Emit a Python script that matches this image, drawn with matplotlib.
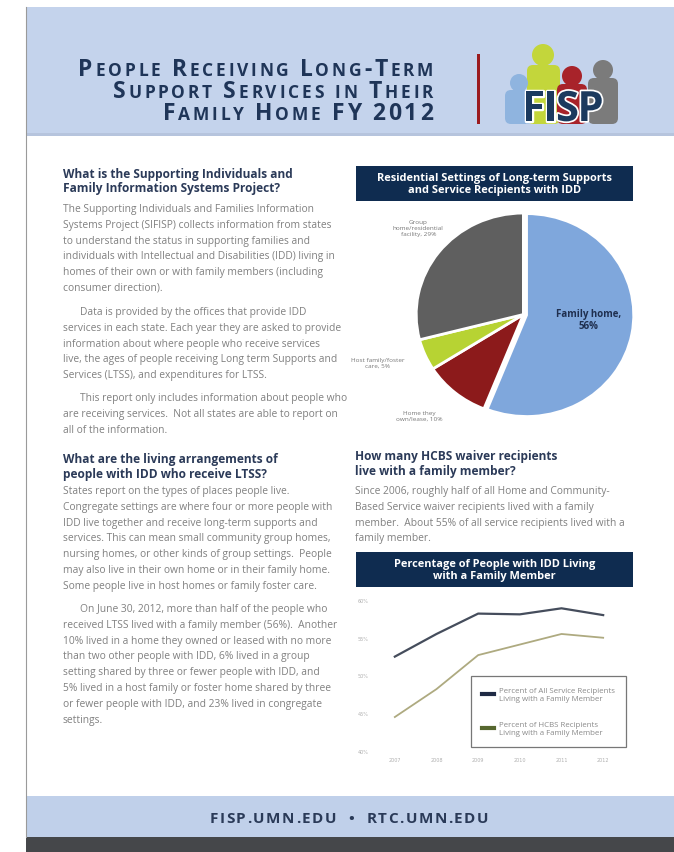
import matplotlib
matplotlib.use('Agg')
import matplotlib.pyplot as plt
from matplotlib import font_manager
from matplotlib.font_manager import FontProperties
from matplotlib.ft2font import FT2Font
from matplotlib.patches import Rectangle, Circle, FancyBboxPatch
from matplotlib.lines import Line2D
import matplotlib.patheffects as pe

# ---- data ----
title_lines = ['People Receiving Long-Term', 'Support Services in Their', 'Family Home FY 2012']

pie_labels = ['Family home,\n56%', 'Home they\nown/lease, 10%', 'Host family/foster\ncare, 5%',
              'Group\nhome/residential\nfacility, 29%']
pie_values = [56, 10, 5, 29]
pie_colors = ['#7fa7dc', '#8c1a1b', '#b7d333', '#5f5f5f']

years = ['2007', '2008', '2009', '2010', '2011', '2012']
all_recipients = [52.5, 55.5, 58.2, 58.1, 58.9, 58.0]
hcbs_recipients = [44.5, 48.2, 52.7, 54.1, 55.5, 55.0]
y_ticks = [40, 45, 50, 55, 60]
series_names = ['Percent of All Service Recipients\nLiving with a Family Member',
                'Percent of HCBS Recipients\nLiving with a Family Member']

head1 = ['What is the Supporting Individuals and', 'Family Information Systems Project?']
para1 = ['The Supporting Individuals and Families Information',
         'Systems Project (SIFISP) collects information from states',
         'to understand the status in supporting families and',
         'individuals with Intellectual and Disabilities (IDD) living in',
         'homes of their own or with family members (including',
         'consumer direction).']
para2 = ['Data is provided by the offices that provide IDD',
         'services in each state. Each year they are asked to provide',
         'information about where people who receive services',
         'live, the ages of people receiving Long term Supports and',
         'Services (LTSS), and expenditures for LTSS.']
para3 = ['This report only includes information about people who',
         'are receiving services.  Not all states are able to report on',
         'all of the information.']
head2 = ['What are the living arrangements of', 'people with IDD who receive LTSS?']
para4 = ['States report on the types of places people live.',
         'Congregate settings are where four or more people with',
         'IDD live together and receive long-term supports and',
         'services. This can mean small community group homes,',
         'nursing homes, or other kinds of group settings.  People',
         'may also live in their own home or in their family home.',
         'Some people live in host homes or family foster care.']
para5 = ['On June 30, 2012, more than half of the people who',
         'received LTSS lived with a family member (56%).  Another',
         '10% lived in a home they owned or leased with no more',
         'than two other people with IDD, 6% lived in a group',
         'setting shared by three or fewer people with IDD, and',
         '5% lived in a host family or foster home shared by three',
         'or fewer people with IDD, and 23% lived in congregate',
         'settings.']
head3 = ['How many HCBS waiver recipients', 'live with a family member?']
para6 = ['Since 2006, roughly half of all Home and Community-',
         'Based Service waiver recipients lived with a family',
         'member.  About 55% of all service recipients lived with a',
         'family member.']
pie_title = 'Residential Settings of Long-term Supports\nand Service Recipients with IDD'
line_title = 'Percentage of People with IDD Living\nwith a Family Member'
footer = 'FISP.UMN.EDU  \u2022  RTC.UMN.EDU'

NAVY = '#0f2c50'
HEAD = '#2b3a58'
BODY = '#808080'
FONT = 'Open Sans'

W, H = 674, 853
fig = plt.figure(figsize=(W / 100, H / 100), dpi=100)
fig.patch.set_facecolor('white')


def fx(x):
    return x / W


def fy(y):
    return 1 - y / H


# background axes in pixel units
bg = fig.add_axes([0, 0, 1, 1])
bg.set_xlim(0, W)
bg.set_ylim(H, 0)
bg.axis('off')

bg.add_patch(Rectangle((26, 8), W - 26, 128, color='#c4d3ec', lw=0))
bg.add_patch(Rectangle((26, 134), W - 26, 3, color='#b6c4dd', lw=0))
bg.add_patch(Rectangle((26, 797), W - 26, 41, color='#c0d0ea', lw=0))
bg.add_patch(Rectangle((26, 838), W - 26, 15, color='#45474a', lw=0))
bg.plot([26, 26], [8, 838], color='#9a9a9a', lw=0.8)

# red divider
bg.add_patch(Rectangle((477, 55), 3, 70, color='#9b1b1f', lw=0))

# logo people
people = [  # head x, head y, r, body x0, x1, top, colour
    (543, 56, 11, 527, 560, 66, '#c3d63b'),
    (603, 71, 10, 588, 618, 79, '#7b7b7b'),
    (572, 77, 10, 557, 587, 85, '#a8232a'),
    (519, 84, 9, 505, 533, 91, '#8fb4df'),
]
for hx, hy, r, x0, x1, top, c in people:
    bg.add_patch(Circle((hx, hy), r, color=c, lw=0))
    bg.add_patch(FancyBboxPatch((x0, top), x1 - x0, 125 - top,
                                boxstyle='round,pad=0,rounding_size=6', color=c, lw=0))

bold_path = font_manager.findfont(FontProperties(family=FONT, weight='bold'))


def tracked(text, x, y, big, small, track, color, ha='right', caps=True):
    # draws text letter by letter with extra spacing; lowercase -> small capitals
    font = FT2Font(bold_path)
    items = []
    for ch in text:
        size = small if (caps and ch.islower()) else big
        c = ch.upper() if caps else ch
        font.set_size(size, 100)
        a = font.load_char(ord(c)).linearHoriAdvance / 65536
        items.append((c, size, a))
    total = sum(a for _, _, a in items) + track * (len(items) - 1)
    x0 = x - total if ha == 'right' else x - total / 2
    for c, size, a in items:
        if c != ' ':
            fig.text(fx(x0), fy(y), c, fontsize=size, fontweight='bold', family=FONT,
                     color=color, ha='left', va='baseline')
        x0 += a + track


for i, ln in enumerate(title_lines):
    tracked(ln, 433, 76 + 22 * i, 16.5, 12.5, 2.7, '#1f3558')

tracked('FISP', 563, 122, 30, 30, -1.5, '#1b3a5e', ha='center')
for t in fig.texts[-4:]:
    t.set_path_effects([pe.withStroke(linewidth=2.5, foreground='white')])

tracked(footer, 349, 823, 11, 11, 1.5, '#2a3a58', ha='center', caps=False)


def block(lines, x, y0, dy=15.8, indent=0, **kw):
    for i, ln in enumerate(lines):
        fig.text(fx(x + (indent if i == 0 else 0)), fy(y0 + i * dy), ln, va='baseline',
                 family=FONT, **kw)


hkw = dict(fontsize=8.6, fontweight='bold', color=HEAD)
bkw = dict(fontsize=7.4, color=BODY)
block(head1, 63, 178, 14.5, **hkw)
block(para1, 63, 212, **bkw)
block(para2, 63, 315, indent=17, **bkw)
block(para3, 63, 401, indent=17, **bkw)
block(head2, 63, 463, 15, **hkw)
block(para4, 63, 494, **bkw)
block(para5, 63, 612, indent=17, **bkw)
block(head3, 355, 460, 15, **hkw)
block(para6, 355, 494, **bkw)

# chart title boxes
for y0, txt in [(167, pie_title), (553, line_title)]:
    bg.add_patch(Rectangle((356, y0), 277, 35, color=NAVY, lw=0))
    bg.text(494.5, y0 + 17.5, txt, fontsize=7.9, fontweight='bold', family=FONT,
            color='white', ha='center', va='center', linespacing=1.15)

# ---- pie ----
ax1 = fig.add_axes([fx(413), fy(420), 224 / W, 209 / H])
ax1.pie(pie_values, colors=pie_colors, startangle=90, counterclock=False,
        explode=[0.03, 0, 0, 0], wedgeprops=dict(edgecolor='white', linewidth=2))
ax1.set_aspect('auto')
ax1.set_xlim(-1.03, 1.06)
ax1.set_ylim(-1.03, 1.03)
ax1.text(0.61, -0.05, pie_labels[0], fontsize=7, fontweight='bold', family=FONT,
         color='#1f2f4f', ha='center', va='center')
small_kw = dict(fontsize=4.6, family=FONT, color='#777777', ha='center', va='center',
                linespacing=1.2)
ax1.text(-0.97, -0.99, pie_labels[1], **small_kw)
ax1.text(-1.36, -0.47, pie_labels[2], **small_kw)
ax1.text(-0.98, 0.86, pie_labels[3], **small_kw)

# ---- line chart ----
ax2 = fig.add_axes([374 / W, 1 - 752 / H, 250 / W, 151 / H])
x = list(range(len(years)))
ax2.plot(x, all_recipients, color='#454d5c', lw=1.6)
ax2.plot(x, hcbs_recipients, color='#aeaa80', lw=1.3)
ax2.set_xlim(-0.5, len(years) - 0.5)
ax2.set_ylim(40, 60)
ax2.set_yticks(y_ticks)
ax2.set_yticklabels([f'{v}%' for v in y_ticks])
ax2.set_xticks(x)
ax2.set_xticklabels(years)
ax2.tick_params(length=0, labelsize=3.5, labelcolor='#b0b0b0', pad=4)
for s in ax2.spines.values():
    s.set_visible(False)
ax2.patch.set_alpha(0)
handles = [Line2D([], [], color='#1f2a44', lw=3), Line2D([], [], color='#56672f', lw=3)]
leg = ax2.legend(handles, series_names, loc='upper left', bbox_to_anchor=(fx(471), fy(677)),
                 bbox_transform=fig.transFigure, fontsize=5.7, frameon=True, fancybox=False,
                 edgecolor='#555555', handlelength=1.5, labelspacing=2.4, borderpad=1.4,
                 handletextpad=0.6, borderaxespad=0)
leg.get_frame().set_linewidth(0.9)
for t in leg.get_texts():
    t.set_color('#8a8a8a')
    t.set_family(FONT)

fig.savefig('out.png', dpi=100)
